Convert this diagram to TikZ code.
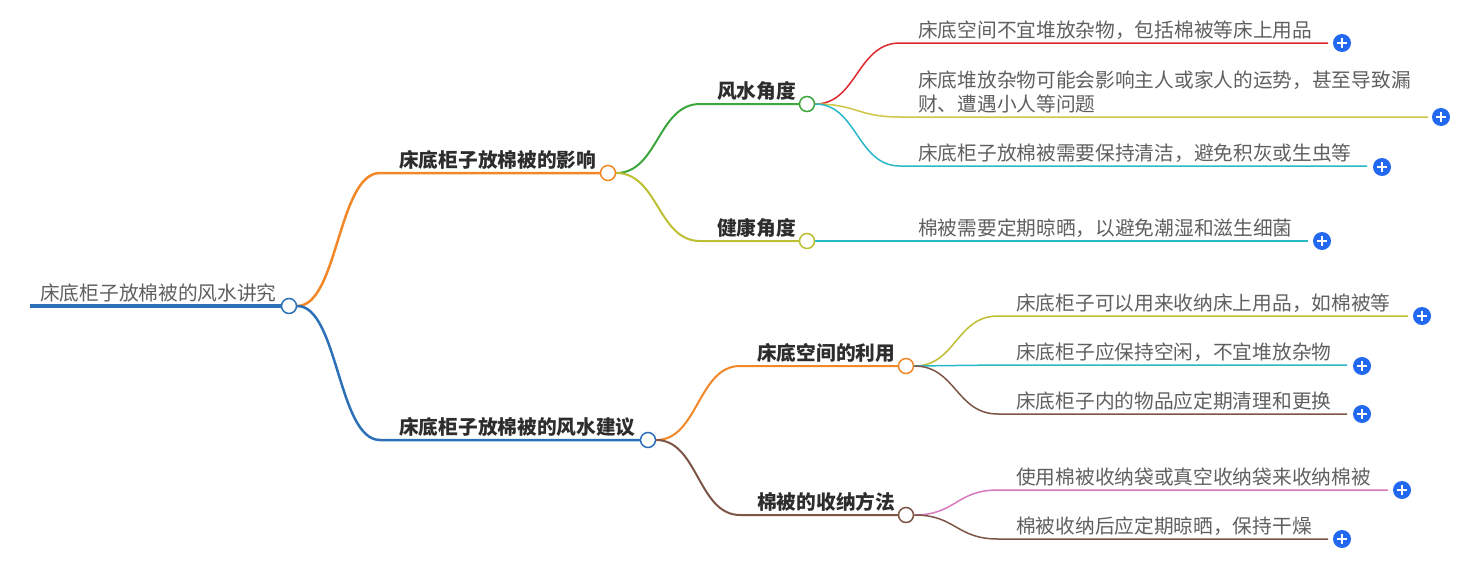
\documentclass[tikz,border=0pt]{standalone}
\usepackage{fontspec}
\setmainfont{Noto Sans CJK SC}
\definecolor{cblue}{RGB}{44,113,183}
\definecolor{corange}{RGB}{242,135,40}
\definecolor{cgreen}{RGB}{60,165,60}
\definecolor{colive}{RGB}{190,190,50}
\definecolor{cred}{RGB}{220,40,45}
\definecolor{cyellow}{RGB}{205,198,70}
\definecolor{ccyan}{RGB}{40,185,200}
\definecolor{cbrown}{RGB}{125,85,70}
\definecolor{cpink}{RGB}{215,120,190}
\definecolor{plusblue}{RGB}{35,105,240}
\definecolor{txtgray}{RGB}{95,95,95}
\definecolor{txtdark}{RGB}{45,45,45}
\tikzset{
  lbl/.style={anchor=base west, inner sep=0pt, align=left, font=\fontsize{19.7}{24.5}\selectfont, text=txtgray},
  bl/.style={anchor=base west, inner sep=0pt, font=\bfseries\fontsize{19.7}{24.5}\selectfont, text=txtdark},
  hub/.style={circle, fill=white, minimum size=15pt, inner sep=0pt, line width=1.5pt},
  plusbtn/.style={circle, fill=plusblue, minimum size=18pt, inner sep=0pt,
    path picture={\draw[white, line width=2pt]
      ([xshift=-5pt]path picture bounding box.center) -- ([xshift=5pt]path picture bounding box.center)
      ([yshift=-5pt]path picture bounding box.center) -- ([yshift=5pt]path picture bounding box.center);}},
  leafline/.style={line width=1.5pt},
}
\begin{document}
\begin{tikzpicture}[x=1pt,y=-1pt]
\useasboundingbox (0,0) rectangle (1467,576);
% ---------- root ----------
\node[lbl] (t0) at (40,300.5) {床底柜子放棉被的风水讲究};
\coordinate (s0) at (30,306);
\node[hub, draw=cblue] (c0) at (289,306) {};
\draw[cblue, line width=4.5pt] (s0) -- (c0.west);
% ---------- level 1 ----------
\node[bl] (t1) at (399,167.5) {床底柜子放棉被的影响};
\coordinate (e1) at (380,173);
\node[hub, draw=corange] (c1) at (608,173) {};
\draw[corange, line width=2.5pt] (c0.east) .. controls (338,306) and (338,173) .. (e1) -- (c1.west);
\node[bl] (t2) at (399,434.5) {床底柜子放棉被的风水建议};
\coordinate (e2) at (380,440);
\node[hub, draw=cblue] (c2) at (648,440) {};
\draw[cblue, line width=2.5pt] (c0.east) .. controls (338,306) and (338,440) .. (e2) -- (c2.west);
% ---------- level 2 ----------
\node[bl] (t11) at (717,98.5) {风水角度};
\coordinate (e11) at (700,104);
\node[hub, draw=cgreen] (c11) at (807,104) {};
\draw[cgreen, line width=2pt] (c1.east) .. controls (658,173) and (658,104) .. (e11) -- (c11.west);
\node[bl] (t12) at (717,235.5) {健康角度};
\coordinate (e12) at (700,241);
\node[hub, draw=colive] (c12) at (807,241) {};
\draw[colive, line width=2pt] (c1.east) .. controls (658,173) and (658,241) .. (e12) -- (c12.west);
\node[bl] (t21) at (757,360.5) {床底空间的利用};
\coordinate (e21) at (740,366);
\node[hub, draw=corange] (c21) at (906,366) {};
\draw[corange, line width=2pt] (c2.east) .. controls (698,440) and (698,366) .. (e21) -- (c21.west);
\node[bl] (t22) at (757,509.5) {棉被的收纳方法};
\coordinate (e22) at (740,515);
\node[hub, draw=cbrown] (c22) at (906,515) {};
\draw[cbrown, line width=2pt] (c2.east) .. controls (698,440) and (698,515) .. (e22) -- (c22.west);
% ---------- leaves of 风水角度 ----------
\node[lbl] (a1) at (918,37.5) {床底空间不宜堆放杂物，包括棉被等床上用品};
\coordinate (a1s) at (900,43); \coordinate (a1e) at (1328,43);
\draw[cred, leafline] (c11.east) .. controls (857,104) and (857,43) .. (a1s) -- (a1e);
\node[plusbtn] (p1) at (1342,43) {};
\node[lbl] (a2) at (918,111.5) {床底堆放杂物可能会影响主人或家人的运势，甚至导致漏\\财、遭遇小人等问题};
\coordinate (a2s) at (900,117); \coordinate (a2e) at (1428,117);
\draw[cyellow, leafline] (c11.east) .. controls (857,104) and (857,117) .. (a2s) -- (a2e);
\node[plusbtn] (p2) at (1441,117) {};
\node[lbl] (a3) at (918,160.5) {床底柜子放棉被需要保持清洁，避免积灰或生虫等};
\coordinate (a3s) at (900,166); \coordinate (a3e) at (1367,166);
\draw[ccyan, leafline] (c11.east) .. controls (857,104) and (857,166) .. (a3s) -- (a3e);
\node[plusbtn] (p3) at (1382,167) {};
% ---------- leaf of 健康角度 ----------
\node[lbl] (b1) at (918,235.5) {棉被需要定期晾晒，以避免潮湿和滋生细菌};
\coordinate (b1s) at (900,241); \coordinate (b1e) at (1308,241);
\draw[ccyan, leafline] (c12.east) -- (b1s) -- (b1e);
\node[plusbtn] (p4) at (1322,241) {};
% ---------- leaves of 床底空间的利用 ----------
\node[lbl] (d1) at (1016,310.5) {床底柜子可以用来收纳床上用品，如棉被等};
\coordinate (d1s) at (998,316); \coordinate (d1e) at (1408,316);
\draw[colive, leafline] (c21.east) .. controls (956,366) and (956,316) .. (d1s) -- (d1e);
\node[plusbtn] (p5) at (1422,316) {};
\node[lbl] (d2) at (1016,359.5) {床底柜子应保持空闲，不宜堆放杂物};
\coordinate (d2s) at (998,365); \coordinate (d2e) at (1347,365);
\draw[ccyan, leafline] (c21.east) .. controls (956,366) and (956,365) .. (d2s) -- (d2e);
\node[plusbtn] (p6) at (1362,366) {};
\node[lbl] (d3) at (1016,408.5) {床底柜子内的物品应定期清理和更换};
\coordinate (d3s) at (998,414); \coordinate (d3e) at (1347,414);
\draw[cbrown, leafline] (c21.east) .. controls (956,366) and (956,414) .. (d3s) -- (d3e);
\node[plusbtn] (p7) at (1362,414) {};
% ---------- leaves of 棉被的收纳方法 ----------
\node[lbl] (g1) at (1016,484.5) {使用棉被收纳袋或真空收纳袋来收纳棉被};
\coordinate (g1s) at (998,490); \coordinate (g1e) at (1388,490);
\draw[cpink, leafline] (c22.east) .. controls (956,515) and (956,490) .. (g1s) -- (g1e);
\node[plusbtn] (p8) at (1402,490) {};
\node[lbl] (g2) at (1016,533.5) {棉被收纳后应定期晾晒，保持干燥};
\coordinate (g2s) at (998,539); \coordinate (g2e) at (1328,539);
\draw[cbrown, leafline] (c22.east) .. controls (956,515) and (956,539) .. (g2s) -- (g2e);
\node[plusbtn] (p9) at (1342,539) {};
\end{tikzpicture}
\end{document}
